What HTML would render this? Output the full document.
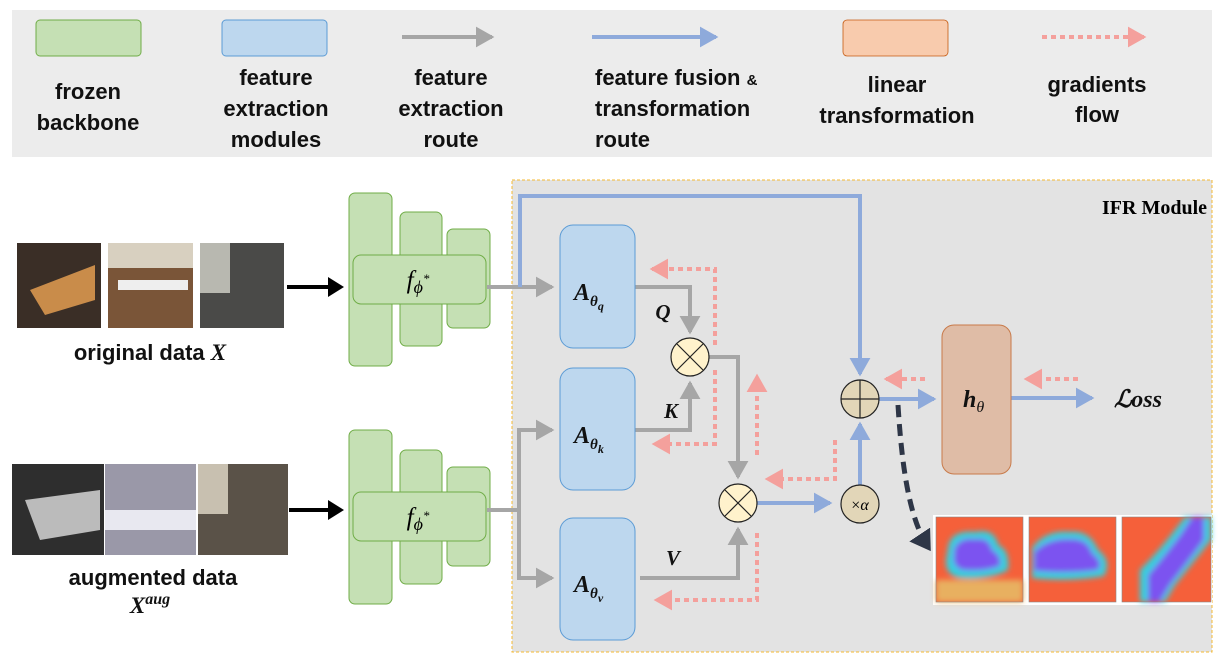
<!DOCTYPE html>
<html><head><meta charset="utf-8"><style>
html,body{margin:0;padding:0;background:#fff;width:1222px;height:662px;overflow:hidden}
svg{display:block}
.t{font-family:"Liberation Sans",sans-serif;font-weight:bold;font-size:22px;fill:#111;text-anchor:middle}
.m{font-family:"Liberation Serif",serif;font-style:italic;font-weight:bold;fill:#111}
</style></head><body>
<svg width="1222" height="662" viewBox="0 0 1222 662">
<defs>
<marker id="ag" markerWidth="6" markerHeight="6" refX="4" refY="3" orient="auto" markerUnits="strokeWidth"><path d="M0,0.4 L4.6,3 L0,5.6 z" fill="#a6a6a6"/></marker>
<marker id="ab" markerWidth="6" markerHeight="6" refX="4" refY="3" orient="auto" markerUnits="strokeWidth"><path d="M0,0.4 L4.6,3 L0,5.6 z" fill="#8eaadb"/></marker>
<marker id="ap" markerWidth="6" markerHeight="6" refX="4" refY="3" orient="auto" markerUnits="strokeWidth"><path d="M0,0.4 L4.6,3 L0,5.6 z" fill="#f4a09c"/></marker>
<marker id="ak" markerWidth="5" markerHeight="5" refX="3" refY="2.5" orient="auto" markerUnits="strokeWidth"><path d="M0,0 L4,2.5 L0,5 z" fill="#000"/></marker>
<marker id="ad" markerWidth="5" markerHeight="5" refX="3" refY="2.5" orient="auto" markerUnits="strokeWidth"><path d="M0,0 L4,2.5 L0,5 z" fill="#2e3647"/></marker>
<filter id="bl"><feGaussianBlur stdDeviation="3"/></filter>
</defs>
<!-- legend -->
<rect x="12" y="10" width="1200" height="147" fill="#ececec"/>
<rect x="36" y="20" width="105" height="36" rx="4" fill="#c5e0b4" stroke="#70ad47"/>
<text class="t" x="88" y="99">frozen</text><text class="t" x="88" y="130">backbone</text>
<rect x="222" y="20" width="105" height="36" rx="4" fill="#bdd7ee" stroke="#5b9bd5"/>
<text class="t" x="276" y="85">feature</text><text class="t" x="276" y="116">extraction</text><text class="t" x="276" y="147">modules</text>
<line x1="402" y1="37" x2="492" y2="37" stroke="#a6a6a6" stroke-width="4" marker-end="url(#ag)"/>
<text class="t" x="451" y="85">feature</text><text class="t" x="451" y="116">extraction</text><text class="t" x="451" y="147">route</text>
<line x1="592" y1="37" x2="716" y2="37" stroke="#8eaadb" stroke-width="4" marker-end="url(#ab)"/>
<text class="t" x="595" y="85" style="text-anchor:start">feature fusion <tspan font-size="15">&amp;</tspan></text><text class="t" x="595" y="116" style="text-anchor:start">transformation</text><text class="t" x="595" y="147" style="text-anchor:start">route</text>
<rect x="843" y="20" width="105" height="36" rx="4" fill="#f8cbad" stroke="#c55a11" stroke-width="0.8"/>
<text class="t" x="897" y="92">linear</text><text class="t" x="897" y="123">transformation</text>
<line x1="1042" y1="37" x2="1144" y2="37" stroke="#f4a09c" stroke-width="4" stroke-dasharray="5,4" marker-end="url(#ap)"/>
<text class="t" x="1097" y="92">gradients</text><text class="t" x="1097" y="122">flow</text>
<!-- IFR -->
<rect x="512" y="180" width="700" height="472" fill="#e3e3e3" stroke="#f5b830" stroke-dasharray="3,2"/>
<text x="1207" y="214" text-anchor="end" style="font-family:'Liberation Serif',serif;font-weight:bold;font-size:20px">IFR Module</text>
<!-- images -->
<rect x="17" y="243" width="84" height="85" fill="#3a2e26"/><path d="M30,290 L95,265 L95,300 L45,315z" fill="#c98c4a"/>
<rect x="108" y="243" width="85" height="85" fill="#7a5538"/><rect x="108" y="243" width="85" height="25" fill="#d8d0c0"/><rect x="118" y="280" width="70" height="10" fill="#eee"/>
<rect x="200" y="243" width="84" height="85" fill="#4a4a48"/><rect x="200" y="243" width="30" height="50" fill="#b8b8b0"/>
<rect x="12" y="464" width="92" height="91" fill="#2e2e2e"/><path d="M25,500 L100,490 L100,530 L40,540z" fill="#bbb"/>
<rect x="105" y="464" width="91" height="91" fill="#9a98a8"/><rect x="105" y="510" width="91" height="20" fill="#e8e8f0"/>
<rect x="198" y="464" width="90" height="91" fill="#5a5248"/><rect x="198" y="464" width="30" height="50" fill="#c8c0b0"/>
<text class="t" x="150" y="360">original data <tspan class="m" font-size="23">X</tspan></text>
<text class="t" x="153" y="585">augmented data</text>
<text class="m" x="150" y="613" font-size="23" text-anchor="middle">X<tspan font-size="16" dy="-9">aug</tspan></text>
<line x1="287" y1="287" x2="340" y2="287" stroke="#000" stroke-width="4" marker-end="url(#ak)"/>
<line x1="289" y1="510" x2="340" y2="510" stroke="#000" stroke-width="4" marker-end="url(#ak)"/>
<!-- backbones -->
<g fill="#c5e0b4" stroke="#70ad47" stroke-width="1">
<rect x="349" y="193" width="43" height="173" rx="6"/><rect x="400" y="212" width="42" height="134" rx="6"/><rect x="447" y="229" width="43" height="99" rx="6"/><rect x="353" y="255" width="133" height="49" rx="8"/>
<rect x="349" y="430" width="43" height="174" rx="6"/><rect x="400" y="450" width="42" height="134" rx="6"/><rect x="447" y="467" width="43" height="99" rx="6"/><rect x="353" y="492" width="133" height="49" rx="8"/>
</g>
<text x="418" y="288" font-size="25" text-anchor="middle" style="font-family:'Liberation Serif',serif;font-style:italic">f<tspan font-size="18" dy="5">ϕ</tspan><tspan font-size="13" dy="-10">*</tspan></text>
<text x="418" y="525" font-size="25" text-anchor="middle" style="font-family:'Liberation Serif',serif;font-style:italic">f<tspan font-size="18" dy="5">ϕ</tspan><tspan font-size="13" dy="-10">*</tspan></text>
<!-- grey routes -->
<g fill="none" stroke="#a6a6a6" stroke-width="4">
<line x1="487" y1="287" x2="552" y2="287" marker-end="url(#ag)"/>
<path d="M487,510 H519 V430 H552" marker-end="url(#ag)"/>
<path d="M519,510 V578 H552" marker-end="url(#ag)"/>
<path d="M635,287 H690 V332" marker-end="url(#ag)"/>
<path d="M635,430 H690 V383" marker-end="url(#ag)"/>
<path d="M709,357 H738 V477" marker-end="url(#ag)"/>
<path d="M640,578 H738 V529" marker-end="url(#ag)"/>
</g>
<!-- blue routes -->
<g fill="none" stroke="#8eaadb" stroke-width="4">
<path d="M520,287 V196 H860 V374" marker-end="url(#ab)"/>
<path d="M757,503 H830" marker-end="url(#ab)"/>
<path d="M860,486 V424" marker-end="url(#ab)"/>
<path d="M878,399 H934" marker-end="url(#ab)"/>
<path d="M1011,398 H1092" marker-end="url(#ab)"/>
</g>
<!-- pink gradients -->
<g fill="none" stroke="#f4a09c" stroke-width="4" stroke-dasharray="5,4">
<path d="M715,345 V269 H652" marker-end="url(#ap)"/>
<path d="M715,370 V444 H654" marker-end="url(#ap)"/>
<path d="M757,455 V376" marker-end="url(#ap)"/>
<path d="M757,533 V600 H656" marker-end="url(#ap)"/>
<path d="M835,440 V479 H767" marker-end="url(#ap)"/>
<path d="M925,379 H886" marker-end="url(#ap)"/>
<path d="M1078,379 H1026" marker-end="url(#ap)"/>
</g>
<!-- A boxes -->
<g fill="#bdd7ee" stroke="#5b9bd5" stroke-width="1">
<rect x="560" y="225" width="75" height="123" rx="13"/><rect x="560" y="368" width="75" height="122" rx="13"/><rect x="560" y="518" width="75" height="122" rx="13"/>
</g>
<text class="m" x="574" y="300" font-size="24">A<tspan font-size="15" dy="6">θ</tspan><tspan font-size="12" dy="4">q</tspan></text>
<text class="m" x="574" y="443" font-size="24">A<tspan font-size="15" dy="6">θ</tspan><tspan font-size="12" dy="4">k</tspan></text>
<text class="m" x="574" y="592" font-size="24">A<tspan font-size="15" dy="6">θ</tspan><tspan font-size="12" dy="4">v</tspan></text>
<text class="m" x="663" y="319" font-size="21" text-anchor="middle">Q</text>
<text class="m" x="671" y="418" font-size="21" text-anchor="middle">K</text>
<text class="m" x="673" y="565" font-size="21" text-anchor="middle">V</text>
<!-- circles -->
<g stroke="#222" stroke-width="1.2">
<circle cx="690" cy="357" r="19" fill="#fff2cc"/><path d="M677,344 L703,370 M703,344 L677,370"/>
<circle cx="738" cy="503" r="19" fill="#fff2cc"/><path d="M725,490 L751,516 M751,490 L725,516"/>
<circle cx="860" cy="399" r="19" fill="#e2d6b8"/><path d="M841,399 H879 M860,380 V418"/>
<circle cx="860" cy="504" r="19" fill="#e2d6b8"/>
</g>
<text x="860" y="510" text-anchor="middle" style="font-family:'Liberation Serif',serif;font-size:16px">×<tspan font-style="italic">α</tspan></text>
<!-- h box -->
<rect x="942" y="325" width="69" height="149" rx="12" fill="#dfbca6" stroke="#c87a4a"/>
<text class="m" x="963" y="407" font-size="24">h<tspan font-size="16" font-weight="normal" dy="5">θ</tspan></text>
<text class="m" x="1114" y="407" font-size="24">ℒoss</text>
<!-- dashed curve -->
<path d="M898,405 C902,470 910,520 928,547" fill="none" stroke="#2e3647" stroke-width="5" stroke-dasharray="12,7" marker-end="url(#ad)"/>
<!-- heatmaps -->
<rect x="933" y="515" width="279" height="90" fill="#fff"/>
<g>
<rect x="936" y="517" width="87" height="85" fill="#f5603a"/>
<g filter="url(#bl)">
<rect x="936" y="580" width="87" height="22" fill="#e8b060"/>
<path d="M948,548 Q950,530 975,532 Q995,528 998,545 Q1010,550 1008,570 Q990,580 960,578 Q945,575 946,560z" fill="#30d0e0"/>
<path d="M954,550 Q958,537 975,539 Q990,537 992,550 Q1002,555 1000,566 Q985,572 962,570 Q952,566 954,556z" fill="#7b52f0"/>
</g>
<rect x="936" y="517" width="87" height="85" fill="none" stroke="#888" stroke-width="0.6"/>
</g>
<g>
<rect x="1029" y="517" width="87" height="85" fill="#f5603a"/>
<g filter="url(#bl)">
<path d="M1032,548 Q1045,530 1070,532 Q1090,530 1098,550 Q1112,560 1104,576 Q1070,582 1032,578z" fill="#30d0e0"/>
<path d="M1034,552 Q1048,538 1070,539 Q1088,538 1092,553 Q1104,562 1098,570 Q1070,574 1034,571z" fill="#7b52f0"/>
</g>
<rect x="1029" y="517" width="87" height="85" fill="none" stroke="#888" stroke-width="0.6"/>
</g>
<g>
<rect x="1122" y="517" width="89" height="85" fill="#f5603a"/>
<g filter="url(#bl)">
<path d="M1140,602 L1140,570 Q1160,550 1175,530 L1185,517 L1211,517 L1211,540 Q1195,560 1175,585 L1165,602z" fill="#30d0e0"/>
<path d="M1148,602 L1148,575 Q1165,555 1180,535 L1192,517 L1204,517 L1204,540 Q1188,562 1170,585 L1160,602z" fill="#7b52f0"/>
</g>
<rect x="1122" y="517" width="89" height="85" fill="none" stroke="#888" stroke-width="0.6"/>
</g>
</svg>
</body></html>
